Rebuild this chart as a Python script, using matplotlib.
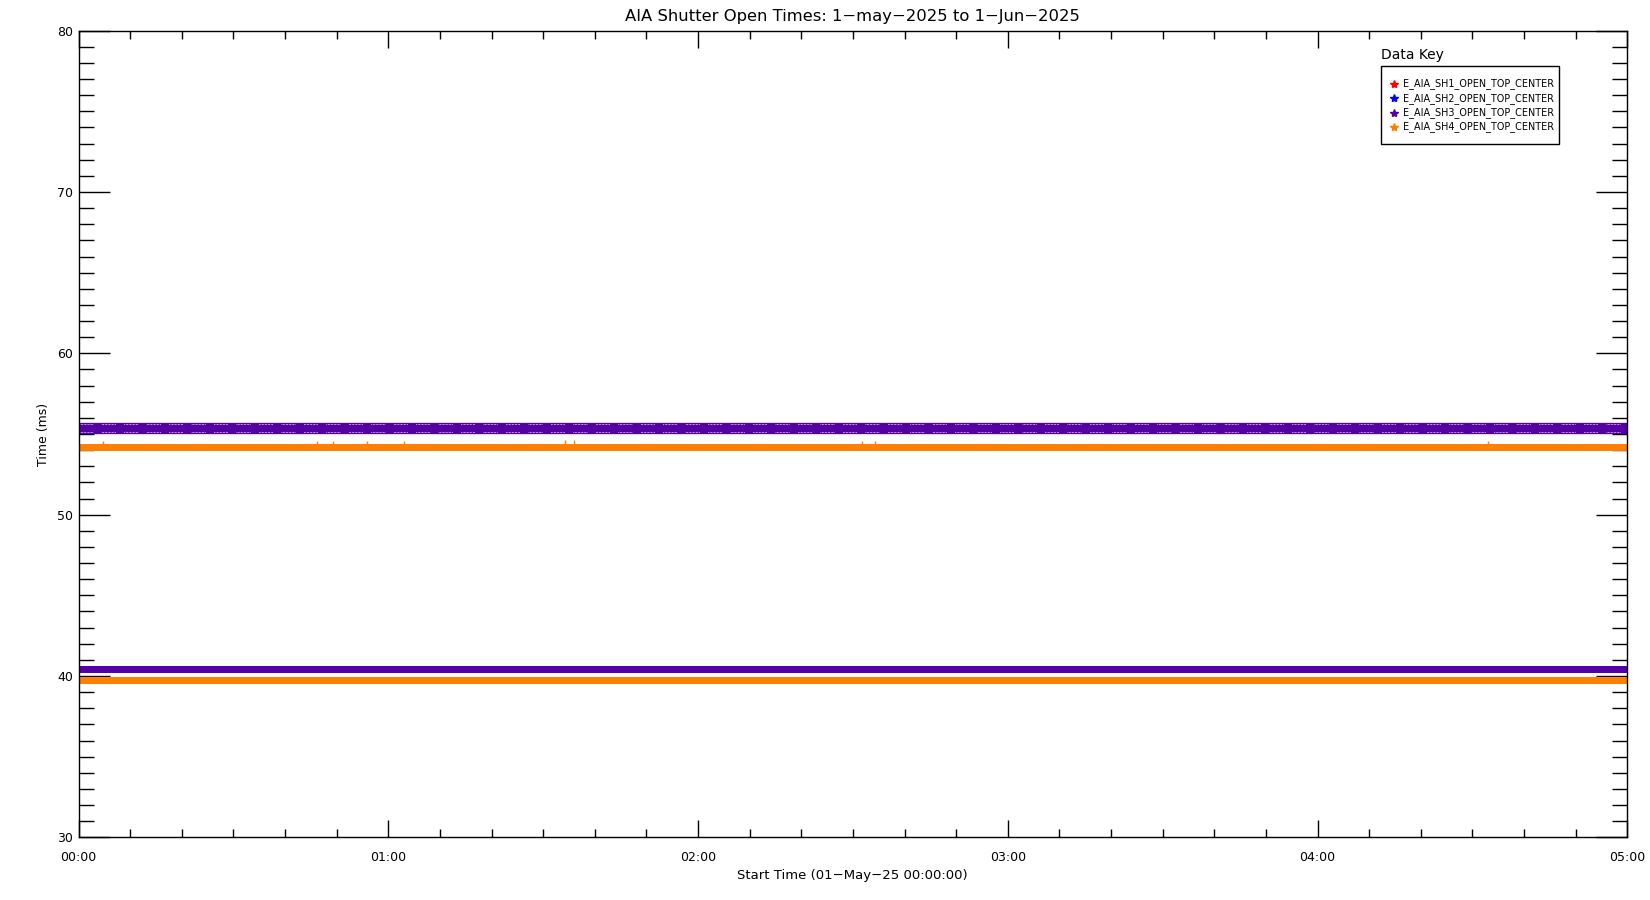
import matplotlib.pyplot as plt
from matplotlib.lines import Line2D
from matplotlib.patches import Rectangle
from matplotlib.ticker import MultipleLocator, FuncFormatter

# data (time in hours from 01-May-25 00:00:00, shutter open time in ms)
t_start = 0.0
t_end = 5.0
series_names = ["E_AIA_SH1_OPEN_TOP_CENTER", "E_AIA_SH2_OPEN_TOP_CENTER",
                "E_AIA_SH3_OPEN_TOP_CENTER", "E_AIA_SH4_OPEN_TOP_CENTER"]
series_colors = ["#ff0000", "#0000ff", "#5500a5", "#ff8000"]
sh1_levels = [55.35, 40.46]
sh2_levels = [55.35, 40.46]
sh3_levels = [55.35, 40.46]
sh4_levels = [54.22, 39.75]
sh4_out_t = [0.08, 0.77, 0.82, 0.93, 1.05, 1.57, 1.60, 2.53, 2.57, 4.55]
sh4_out_v = [54.45, 54.45, 54.45, 54.45, 54.45, 54.5, 54.5, 54.45, 54.45, 54.45]

W, H = 1650, 900
fig = plt.figure(figsize=(W / 100, H / 100), dpi=100)
x0, x1, y0, y1 = 78.5, 1627.3, 30.7, 837.3
ax = fig.add_axes([x0 / W, 1 - y1 / H, (x1 - x0) / W, (y1 - y0) / H])

# band thickness: the upper purple band holds two rows of asterisks
all_levels = [sh1_levels, sh2_levels, sh3_levels, sh4_levels]
all_widths = [[8.0, 5.0], [8.0, 5.0], [8.0, 5.0], [5.0, 5.0]]
for levels, widths, col in zip(all_levels, all_widths, series_colors):
    for v, lw in zip(levels, widths):
        ax.plot([t_start, t_end], [v, v], color=col, lw=lw, solid_capstyle="butt")

# white gaps between the asterisks in the upper band
dash = [0.6, 0.9] * 9 + [0.6, 9.0]
for v in [sh3_levels[0] + 0.25, sh3_levels[0] - 0.25]:
    ax.plot([t_start, t_end], [v, v], color="white", lw=0.7, dashes=dash)

ax.plot(sh4_out_t, sh4_out_v, ls="none", marker="|", ms=3, mew=1, color=series_colors[3])

ax.set_xlim(t_start, t_end)
ax.set_ylim(30, 80)
ax.xaxis.set_major_locator(MultipleLocator(1))
ax.xaxis.set_minor_locator(MultipleLocator(1 / 6))
ax.yaxis.set_major_locator(MultipleLocator(10))
ax.yaxis.set_minor_locator(MultipleLocator(1))
ax.xaxis.set_major_formatter(FuncFormatter(lambda v, p: "%02d:%02d" % (int(v), round((v % 1) * 60))))

ax.tick_params(which="both", direction="in", top=True, right=True, width=1, labelsize=9)
ax.tick_params(axis="y", which="major", length=22, pad=4)
ax.tick_params(axis="y", which="minor", length=11)
ax.tick_params(axis="x", which="major", length=12, pad=10)
ax.tick_params(axis="x", which="minor", length=6, pad=10)
for s in ax.spines.values():
    s.set_linewidth(1)

fig.text(852 / W, 1 - 16 / H, "AIA Shutter Open Times: 1\u2212may\u22122025 to 1\u2212Jun\u22122025",
         ha="center", va="center", fontsize=11.8)
fig.text(852 / W, 1 - 876 / H, "Start Time (01\u2212May\u221225 00:00:00)", ha="center", va="center", fontsize=9.5)
fig.text(43 / W, 1 - 434 / H, "Time (ms)", ha="center", va="center", rotation=90, fontsize=9)

# legend ("Data Key")
fig.text(1381 / W, 1 - 55 / H, "Data Key", ha="left", va="center", fontsize=10)
fig.add_artist(Rectangle((1381 / W, 1 - 144 / H), (1559 - 1381) / W, (144 - 65.7) / H,
                         transform=fig.transFigure, fill=False, edgecolor="black", lw=1))
for i, (name, col) in enumerate(zip(series_names, series_colors)):
    yy = 1 - (84 + i * 14.3) / H
    fig.add_artist(Line2D([1394 / W], [yy], transform=fig.transFigure, marker="*",
                          ms=6, color=col, ls="none"))
    fig.text(1402.5 / W, yy, name, ha="left", va="center", fontsize=6.9)

fig.savefig("out.png", dpi=100)
